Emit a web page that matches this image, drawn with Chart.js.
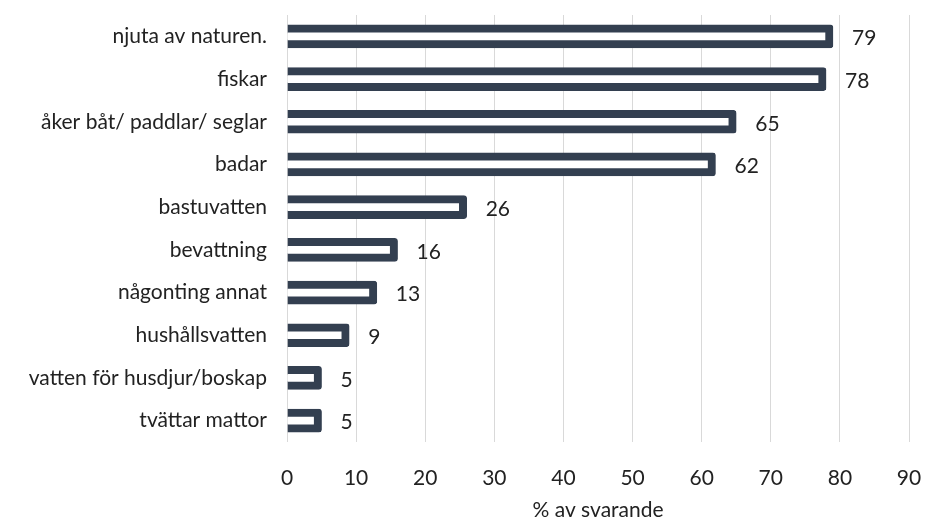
<!DOCTYPE html>
<html>
<head>
<meta charset="utf-8">
<script src="https://cdn.jsdelivr.net/npm/chart.js@4"></script>
<style>
  html, body { margin: 0; padding: 0; background: #fff; }
  #wrap { width: 925px; height: 523px; }
</style>
</head>
<body>
<div id="wrap"><canvas id="chart"></canvas></div>
<script>
const categories = ['njuta av naturen.', 'fiskar', 'åker båt/ paddlar/ seglar', 'badar', 'bastuvatten',
    'bevattning', 'någonting annat', 'hushållsvatten', 'vatten för husdjur/boskap', 'tvättar mattor'];
const values = [79, 78, 65, 62, 26, 16, 13, 9, 5, 5];
const xTicks = [0, 10, 20, 30, 40, 50, 60, 70, 80, 90];
const xTitle = '% av svarande';

const fontFamily = 'Lato, "Open Sans", sans-serif';
const fontSize = 21;

// draws the value to the right of each bar
const valueLabels = {
    id: 'valueLabels',
    afterDatasetsDraw(chart){
        const ctx = chart.ctx;
        const meta = chart.getDatasetMeta(0);
        ctx.save();
        ctx.font = fontSize + 'px ' + fontFamily;
        ctx.fillStyle = '#222';
        ctx.textBaseline = 'middle';
        meta.data.forEach(function(bar, i){
            ctx.fillText(String(values[i]), bar.x + 19, bar.y + 2);
        });
        ctx.restore();
    }
};

document.addEventListener('DOMContentLoaded', function(){
    const ctx = document.getElementById('chart').getContext('2d');
    new Chart(ctx, {
        type: 'bar',
        data: {
            labels: categories,
            datasets: [{
                data: values,
                backgroundColor: '#ffffff',
                borderColor: '#333F50',
                borderWidth: 8,
                borderRadius: 3,
                barThickness: 23
            }]
        },
        options: {
            indexAxis: 'y',
            responsive: true,
            maintainAspectRatio: false,
            animation: false,
            layout: { padding: { top: 15, right: 16, bottom: 0, left: 0 } },
            plugins: {
                legend: { display: false },
                tooltip: { enabled: false }
            },
            scales: {
                x: {
                    min: 0,
                    max: 90,
                    afterBuildTicks(scale){ scale.ticks = xTicks.map(v => ({ value: v })); },
                    afterFit(scale){ scale.paddingLeft = 0; scale.paddingRight = 0; scale.height = 81; },
                    grid: { color: '#D9D9D9', lineWidth: 1, drawTicks: false },
                    border: { display: false },
                    ticks: { color: '#222', font: { family: fontFamily, size: fontSize }, padding: 24 },
                    title: { display: true, text: xTitle, color: '#222', font: { family: fontFamily, size: fontSize }, padding: { top: 8, bottom: 0 } }
                },
                y: {
                    afterFit(scale){ scale.width = 287; scale.paddingTop = 0; scale.paddingBottom = 0; },
                    grid: { display: false, drawTicks: false },
                    border: { display: false },
                    ticks: { color: '#222', font: { family: fontFamily, size: fontSize }, padding: 20 }
                }
            }
        },
        plugins: [valueLabels]
    });
});
</script>
</body>
</html>
